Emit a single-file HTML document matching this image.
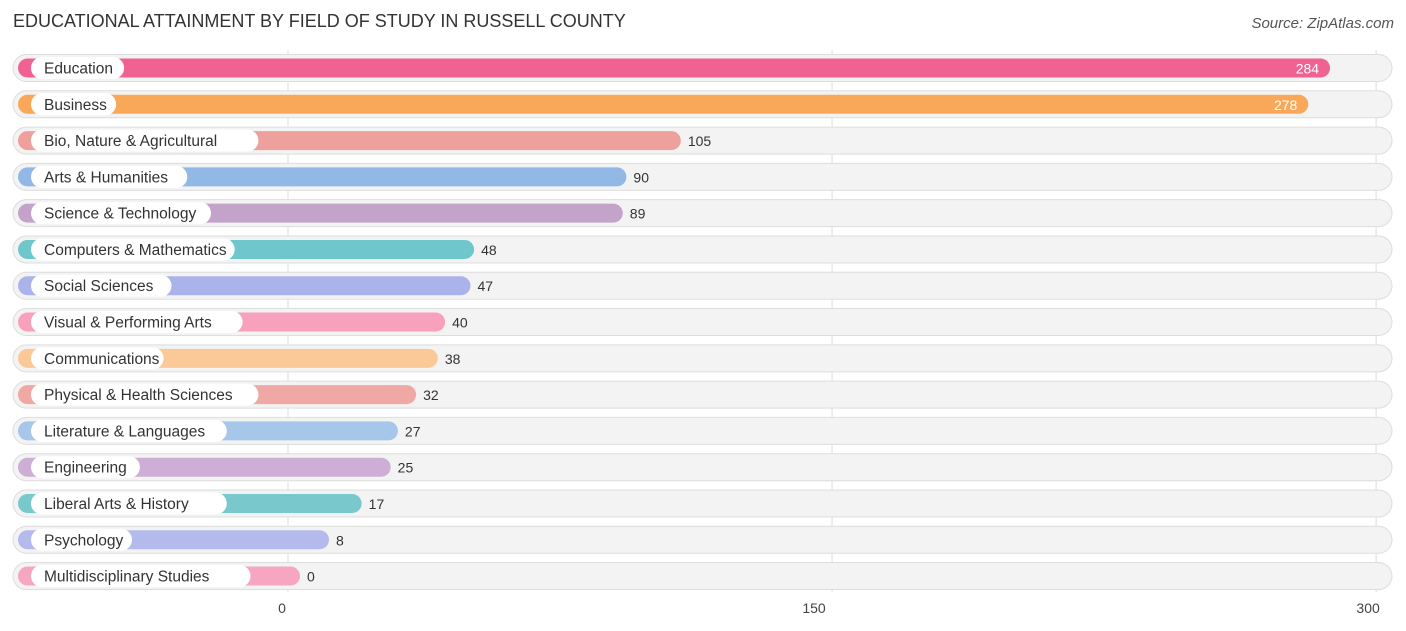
<!DOCTYPE html>
<html><head><meta charset="utf-8"><style>
body{margin:0;width:1406px;height:631px;background:#fff;font-family:"Liberation Sans",sans-serif;overflow:hidden;position:relative}
.t{position:absolute;left:13px;top:11px;font-size:18px;color:#333}
.src{position:absolute;right:12px;top:15px;font-size:15px;color:#555;font-style:italic}
</style></head><body>
<div class="t">EDUCATIONAL ATTAINMENT BY FIELD OF STUDY IN RUSSELL COUNTY</div>
<div class="src">Source: ZipAtlas.com</div>
<svg id="c" width="1406" height="631" style="position:absolute;left:0;top:0"></svg>
<script>
const categories=["Education","Business","Bio, Nature & Agricultural","Arts & Humanities","Science & Technology","Computers & Mathematics","Social Sciences","Visual & Performing Arts","Communications","Physical & Health Sciences","Literature & Languages","Engineering","Liberal Arts & History","Psychology","Multidisciplinary Studies"];
const values=[284,278,105,90,89,48,47,40,38,32,27,25,17,8,0];
const colors=["#f06292","#f9a85a","#eea09d","#92b8e6","#c3a3ca","#6fc6cb","#aab4ea","#f7a1bd","#fbc897","#f0a8a4","#a6c6ea","#cdaed4","#78c8cc","#b4bbec","#f7a6c2"];
const ticks=[0,150,300];
const svg=document.getElementById('c');const NS='http://www.w3.org/2000/svg';
const x=v=>288+v*3.627;const y=i=>68+i*36.29;
function mk(t,a,p){const e=document.createElementNS(NS,t);for(const k in a)e.setAttribute(k,a[k]);(p||svg).appendChild(e);return e;}
ticks.forEach(t=>{const g=mk('line',{x1:x(t),x2:x(t),y1:50,y2:592,stroke:'#ddd','stroke-width':1});

const tl=mk('text',{x:x(t)-(t===0?6:t===300?8:18),y:613,'font-size':14,fill:'#444','text-anchor':'middle'});tl.textContent=t;
});
categories.forEach((c,i)=>{const cy=y(i);
const bg=mk('rect',{x:13,y:cy-13.5,width:1379,height:27,rx:13.5,fill:'#f3f3f3',stroke:'#ddd','stroke-width':1});

const w=x(values[i])+12-18;
const b=mk('rect',{x:18,y:cy-9.5,width:w,height:19,rx:9.5,fill:colors[i]});

const lw=c.length*7.9+22;
const p=mk('rect',{x:31,y:cy-11,width:lw,height:22,rx:11,fill:'#fff'});

const tx=mk('text',{x:44,y:cy+5.5,'font-size':15.5,fill:'#333'});tx.textContent=c;

const inside=values[i]>200;const end=18+w;
const v=mk('text',{x:inside?end-11:end+7,y:cy+5.5,'font-size':14,fill:inside?'#fff':'#333','text-anchor':inside?'end':'start'});v.textContent=values[i];
});
</script>
</body></html>
